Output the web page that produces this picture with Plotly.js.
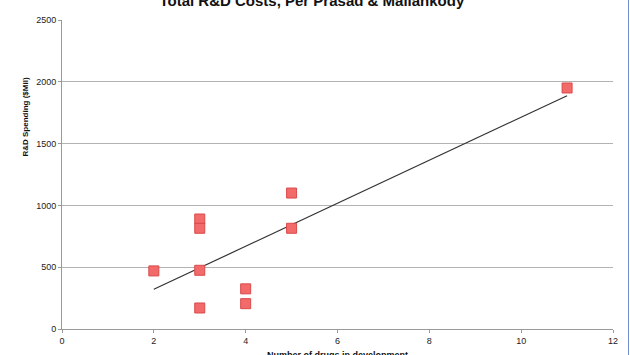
<!DOCTYPE html>
<html><head><meta charset="utf-8">
<script src="https://cdn.plot.ly/plotly-3.0.1.min.js"></script>
<style>html,body{margin:0;padding:0;background:#fff;overflow:hidden}
#c{width:630px;height:355px;position:relative}
#edge{position:absolute;left:628px;top:0;width:1px;height:355px;background:#6f8fd0}</style>
</head><body><div id="c"></div><div id="edge"></div>
<script>
const drugs = [2, 3, 3, 3, 3, 4, 4, 5, 5, 11];
const spending = [470, 890, 815, 475, 170, 325, 205, 1100, 815, 1950];
const xTicks = [0, 2, 4, 6, 8, 10, 12];
const yTicks = [0, 500, 1000, 1500, 2000, 2500];

// linear least-squares trendline from the data
const n = drugs.length;
const mx = drugs.reduce((a,b)=>a+b,0)/n;
const my = spending.reduce((a,b)=>a+b,0)/n;
let sxy=0, sxx=0;
for (let i=0;i<n;i++){ sxy+=(drugs[i]-mx)*(spending[i]-my); sxx+=(drugs[i]-mx)**2; }
const slope = sxy/sxx, icpt = my - slope*mx;
const tx = [Math.min(...drugs), Math.max(...drugs)];
const ty = tx.map(v=>icpt+slope*v);

const traces = [
 {x: tx, y: ty, type:'scatter', mode:'lines', line:{color:'#333', width:1.2}, hoverinfo:'skip'},
 {x: drugs, y: spending, type:'scatter', mode:'markers',
  marker:{symbol:'square', size:10, color:'#f26a6a', line:{color:'#d94a4a', width:1}}}
];
const layout = {
 width:630, height:355, showlegend:false,
 paper_bgcolor:'#fff', plot_bgcolor:'#fff',
 margin:{l:62, r:17, t:20, b:26},
 font:{family:'Liberation Sans, Arial, sans-serif', color:'#333'},
 title:{text:'<b>Total R&D Costs, Per Prasad & Mailankody</b>', font:{size:15, color:'#111'},
   x:0.495, xanchor:'center', y:0.998, yref:'container', yanchor:'middle'},
 xaxis:{range:[0,12], tickvals:xTicks, ticktext:xTicks.map(String), showgrid:false, zeroline:false,
   showline:true, linecolor:'#999', linewidth:1, ticks:'outside', ticklen:3, tickcolor:'#999',
   tickfont:{size:9, color:'#222'}, fixedrange:true},
 yaxis:{range:[0,2500], tickvals:yTicks, ticktext:yTicks.map(String), showgrid:true, gridcolor:'#b3b3b3', gridwidth:1,
   zeroline:false, showline:true, linecolor:'#999', linewidth:1, ticks:'outside', ticklen:3, tickcolor:'#999',
   tickfont:{size:9, color:'#222'}, fixedrange:true},
 annotations:[
  {text:'<b>R&D Spending ($Mil)</b>', textangle:-90, xref:'paper', yref:'paper',
   x:-0.068, y:0.686, xanchor:'center', yanchor:'middle', showarrow:false, font:{size:8, color:'#111'}},
  {text:'<b>Number of drugs in development</b>', xref:'paper', yref:'paper',
   x:0.5, y:-0.083, xanchor:'center', yanchor:'middle', showarrow:false, font:{size:9, color:'#111'}}]
};
Plotly.newPlot('c', traces, layout, {displayModeBar:false, staticPlot:true});
</script></body></html>
